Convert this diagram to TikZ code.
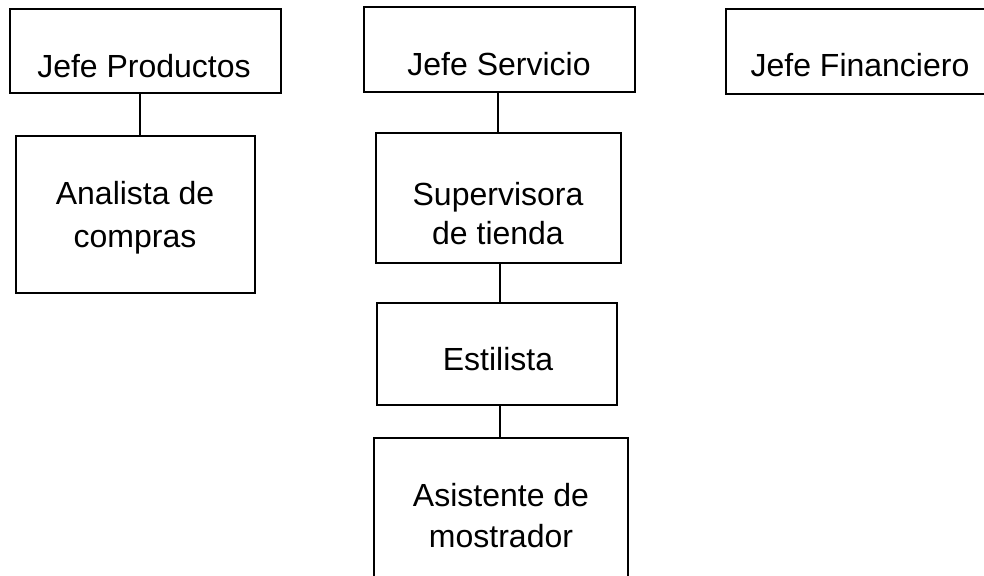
\documentclass[tikz,border=0pt]{standalone}
\usepackage{fontspec}
\setmainfont{Liberation Sans}
\begin{document}
\begin{tikzpicture}[x=1pt,y=-1pt,
  box/.style={draw=black,line width=2pt,inner sep=0pt,rectangle},
  txt/.style={anchor=base,inner sep=0pt,font=\fontsize{32}{40}\selectfont},
  conn/.style={draw=black,line width=2pt}]
\useasboundingbox (0,0) rectangle (984,575);
\clip (0,0) rectangle (984,575);
% top row
\node[box,minimum width=271pt,minimum height=84pt] (jp) at (145.25,51.25) {};
\node[txt] (jpt) at (144,78) {Jefe Productos};
\node[box,minimum width=271pt,minimum height=85pt] (js) at (499.5,49.5) {};
\node[txt] (jst) at (499,76) {Jefe Servicio};
\node[box,minimum width=268pt,minimum height=85pt] (jf) at (860,51.5) {};
\node[txt] (jft) at (860,77) {Jefe Financiero};
% second row
\node[box,minimum width=239pt,minimum height=157pt] (an) at (135.5,214.5) {};
\node[txt] (ant1) at (135,204) {Analista de};
\node[txt] (ant2) at (135,247) {compras};
\node[box,minimum width=245pt,minimum height=130pt] (su) at (498.5,198) {};
\node[txt] (sut1) at (498,205) {Supervisora};
\node[txt] (sut2) at (498,244) {de tienda};
% third
\node[box,minimum width=240pt,minimum height=102pt] (es) at (497,354) {};
\node[txt] (est) at (498,370) {Estilista};
% fourth
\node[box,minimum width=254pt,minimum height=146pt] (as) at (501,511) {};
\node[txt] (ast1) at (501,506) {Asistente de};
\node[txt] (ast2) at (501,547) {mostrador};
% connectors
\coordinate (c1) at (140,0);
\coordinate (c2) at (498,0);
\coordinate (c3) at (500,0);
\draw[conn] (jp.south -| c1) -- (an.north -| c1);
\draw[conn] (js.south -| c2) -- (su.north -| c2);
\draw[conn] (su.south -| c3) -- (es.north -| c3);
\draw[conn] (es.south -| c3) -- (as.north -| c3);
\end{tikzpicture}
\end{document}
